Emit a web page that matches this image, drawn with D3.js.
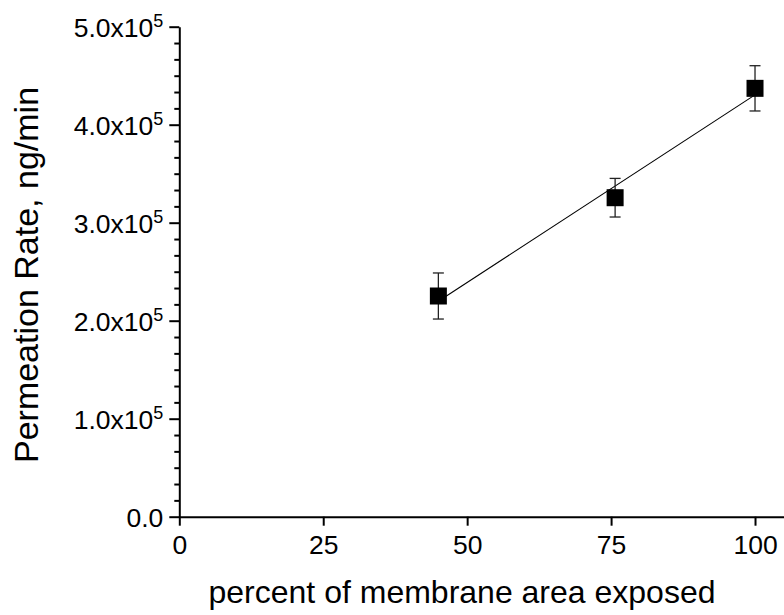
<!DOCTYPE html>
<html>
<head>
<meta charset="utf-8">
<script src="https://cdn.jsdelivr.net/npm/d3@7"></script>
<style>
  html, body { margin: 0; padding: 0; background: #fff; }
  svg { display: block; font-family: Arial, "Liberation Sans", sans-serif; }
</style>
</head>
<body>
<svg id="chart" width="784" height="615"></svg>
<script>
// Percent of membrane area exposed vs. measured permeation rate
const exposure = [45, 75.7, 100];
const rate = [2.252e5, 3.255e5, 4.371e5];
const rateErr = [0.235e5, 0.197e5, 0.231e5];

const xTickValues = [0, 25, 50, 75, 100];
const yTickValues = [0, 1e5, 2e5, 3e5, 4e5, 5e5];
const yTickMantissa = ["0.0", "1.0x10", "2.0x10", "3.0x10", "4.0x10", "5.0x10"];
const yTickExponent = ["", "5", "5", "5", "5", "5"];

const xTitle = "percent of membrane area exposed";
const yTitle = "Permeation Rate, ng/min";

const svg = d3.select("#chart");

const x = d3.scaleLinear().domain([0, 105]).range([179.3, 783.8]);
const y = d3.scaleLinear().domain([0, 5e5]).range([516.7, 26.7]);

// Minor ticks on y: five between each pair of majors
const yMinor = [];
for (let i = 0; i < yTickValues.length - 1; i++) {
  const a = yTickValues[i], b = yTickValues[i + 1];
  for (let k = 1; k < 6; k++) yMinor.push(a + (b - a) * k / 6);
}

const yMinorAxis = svg.append("g")
  .attr("transform", `translate(${x(0)},0)`)
  .call(d3.axisLeft(y).tickValues(yMinor).tickSize(5).tickSizeOuter(0).tickFormat(""));
yMinorAxis.select(".domain").remove();
yMinorAxis.selectAll("line").attr("stroke", "#000").attr("stroke-width", 2);

const yAxis = svg.append("g")
  .attr("transform", `translate(${x(0)},0)`)
  .call(d3.axisLeft(y).tickValues(yTickValues).tickSize(10).tickSizeOuter(0).tickFormat(""));
yAxis.select(".domain").attr("stroke", "#000").attr("stroke-width", 2);
yAxis.selectAll("line").attr("stroke", "#000").attr("stroke-width", 2);

// y tick labels with superscript exponent
yTickValues.forEach((v, i) => {
  const t = svg.append("text")
    .attr("text-anchor", "end")
    .attr("x", x(0) - 16)
    .attr("y", y(v) + 10)
    .attr("font-size", 26.5)
    .attr("fill", "#000");
  t.append("tspan").text(yTickMantissa[i]);
  if (yTickExponent[i]) {
    t.append("tspan").attr("font-size", 18).attr("dy", -10).text(yTickExponent[i]);
  }
});

const xAxis = svg.append("g")
  .attr("transform", `translate(0,${y(0)})`)
  .call(d3.axisBottom(x).tickValues(xTickValues).tickSize(9).tickSizeOuter(0).tickPadding(9));
xAxis.select(".domain").attr("stroke", "#000").attr("stroke-width", 2);
xAxis.selectAll("line").attr("stroke", "#000").attr("stroke-width", 2);
xAxis.selectAll("text")
  .attr("font-size", 26.5)
  .attr("font-family", "Arial, 'Liberation Sans', sans-serif")
  .attr("fill", "#000");

// Axis titles
svg.append("text")
  .attr("x", 462)
  .attr("y", 603)
  .attr("text-anchor", "middle")
  .attr("font-size", 32)
  .attr("fill", "#000")
  .text(xTitle);

svg.append("text")
  .attr("transform", "translate(38,275) rotate(-90)")
  .attr("text-anchor", "middle")
  .attr("font-size", 34)
  .attr("fill", "#000")
  .text(yTitle);

// Least-squares fit line through the points
const n = exposure.length;
const mx = d3.mean(exposure), my = d3.mean(rate);
let sxy = 0, sxx = 0;
for (let i = 0; i < n; i++) {
  sxy += (exposure[i] - mx) * (rate[i] - my);
  sxx += (exposure[i] - mx) ** 2;
}
const slope = sxy / sxx, intercept = my - slope * mx;
const x0 = d3.min(exposure), x1 = d3.max(exposure);

svg.append("line")
  .attr("x1", x(x0)).attr("y1", y(intercept + slope * x0))
  .attr("x2", x(x1)).attr("y2", y(intercept + slope * x1))
  .attr("stroke", "#000").attr("stroke-width", 1.1);

// Error bars
const capHalf = 5.5;
const pts = exposure.map((e, i) => ({ e, r: rate[i], s: rateErr[i] }));
const eb = svg.append("g").attr("stroke", "#222").attr("stroke-width", 1.3);
pts.forEach(p => {
  const cx = x(p.e);
  eb.append("line").attr("x1", cx).attr("x2", cx).attr("y1", y(p.r + p.s)).attr("y2", y(p.r - p.s));
  eb.append("line").attr("x1", cx - capHalf).attr("x2", cx + capHalf).attr("y1", y(p.r + p.s)).attr("y2", y(p.r + p.s));
  eb.append("line").attr("x1", cx - capHalf).attr("x2", cx + capHalf).attr("y1", y(p.r - p.s)).attr("y2", y(p.r - p.s));
});

// Square markers
const side = 17;
svg.append("g").selectAll("rect")
  .data(pts)
  .join("rect")
  .attr("x", d => x(d.e) - side / 2)
  .attr("y", d => y(d.r) - side / 2)
  .attr("width", side)
  .attr("height", side)
  .attr("fill", "#000");
</script>
</body>
</html>
